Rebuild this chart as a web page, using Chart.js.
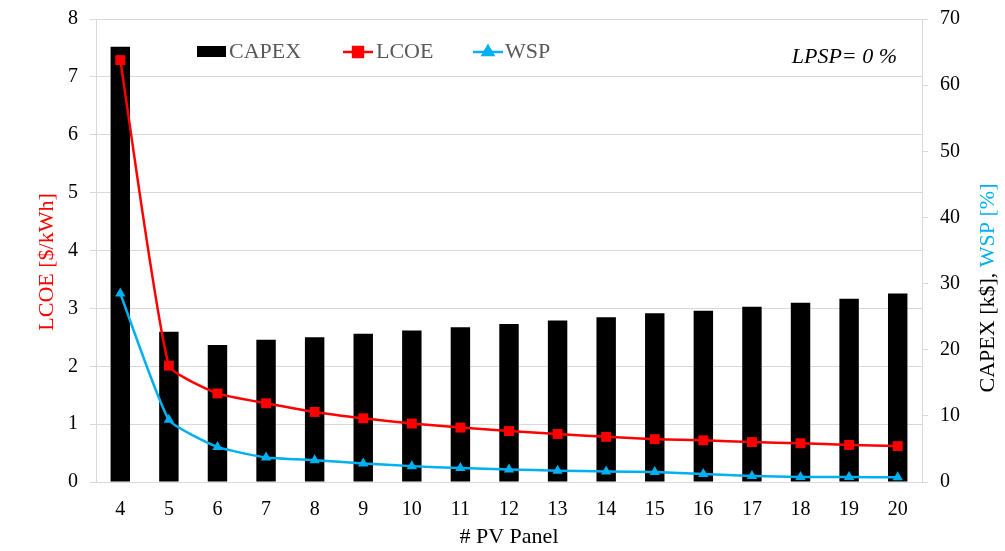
<!DOCTYPE html>
<html>
<head>
<meta charset="utf-8">
<script src="https://cdn.jsdelivr.net/npm/chart.js@4.4.1/dist/chart.umd.min.js"></script>
<style>
  html, body { margin: 0; padding: 0; background: #fff; }
  #wrap { width: 1005px; height: 551px; }
</style>
</head>
<body>
<div id="wrap"><canvas id="pvChart" width="1005" height="551"></canvas></div>
<script>
// Data
const panels = ['4', '5', '6', '7', '8', '9', '10', '11', '12', '13', '14', '15', '16', '17', '18', '19', '20'];
const capex = [65.8, 22.7, 20.7, 21.5, 21.9, 22.4, 22.9, 23.4, 23.9, 24.4, 24.9, 25.5, 25.9, 26.5, 27.1, 27.7, 28.5];
const lcoe = [7.29, 2.01, 1.53, 1.36, 1.21, 1.10, 1.01, 0.94, 0.88, 0.83, 0.78, 0.74, 0.72, 0.69, 0.67, 0.64, 0.62];
const wsp = [28.5, 9.4, 5.3, 3.7, 3.3, 2.8, 2.4, 2.1, 1.9, 1.7, 1.6, 1.5, 1.2, 0.9, 0.75, 0.75, 0.7];
const lcoeTicks = [0, 1, 2, 3, 4, 5, 6, 7, 8];
const rightTicks = [0, 10, 20, 30, 40, 50, 60, 70];

const SERIF = "'Liberation Serif', 'Times New Roman', serif";
const RED = '#ff0000';
const BLUE = '#00b0f0';
const GRID = '#d9d9d9';

// legend, axis titles and the LPSP note
const annotations = {
    id: 'annotations',
    afterDraw(chart) {
        const ctx = chart.ctx;
        const ds = chart.data.datasets;
        ctx.save();
        ctx.textBaseline = 'middle';
        ctx.font = '22px ' + SERIF;

        // legend
        const ly = 52;
        ctx.fillStyle = ds[0].backgroundColor;
        ctx.fillRect(197, 46, 29, 11);
        ctx.fillStyle = '#595959';
        ctx.textAlign = 'left';
        ctx.fillText(ds[0].label, 229, ly);

        [[ds[1], 343, 376], [ds[2], 473, 505]].forEach(([d, x0, tx]) => {
            ctx.strokeStyle = d.borderColor;
            ctx.lineWidth = d.borderWidth;
            ctx.beginPath();
            ctx.moveTo(x0, ly);
            ctx.lineTo(x0 + 30, ly);
            ctx.stroke();
            Chart.helpers.drawPoint(ctx, {
                pointStyle: d.pointStyle,
                radius: d.pointRadius,
                borderWidth: 1,
                rotation: 0
            }, x0 + 15, ly);
            ctx.fillStyle = d.borderColor;
            ctx.fill();
            ctx.fillStyle = '#595959';
            ctx.fillText(d.label, tx, ly);
        });

        // LPSP note
        ctx.fillStyle = '#000';
        ctx.textAlign = 'right';
        ctx.font = 'italic 22px ' + SERIF;
        ctx.fillText('LPSP= 0 %', 897, 57);

        // x title
        ctx.font = '22px ' + SERIF;
        ctx.textAlign = 'center';
        ctx.fillText('# PV Panel', 509, 537);

        // left title
        ctx.save();
        ctx.translate(47, 262);
        ctx.rotate(-Math.PI / 2);
        ctx.fillStyle = RED;
        ctx.fillText('LCOE [$/kWh]', 0, 0);
        ctx.restore();

        // right title, two colours
        ctx.save();
        ctx.translate(988, 288);
        ctx.rotate(-Math.PI / 2);
        const p1 = 'CAPEX [k$], ';
        const p2 = 'WSP [%]';
        const w1 = ctx.measureText(p1).width;
        const w2 = ctx.measureText(p2).width;
        const start = -(w1 + w2) / 2;
        ctx.textAlign = 'left';
        ctx.fillStyle = '#000';
        ctx.fillText(p1, start, 0);
        ctx.fillStyle = BLUE;
        ctx.fillText(p2, start + w1, 0);
        ctx.restore();

        ctx.restore();
    }
};

function fixVertical(width) {
    return function (scale) {
        scale.width = width;
        scale.paddingTop = 0;
        scale.paddingBottom = 0;
    };
}

const ctx = document.getElementById('pvChart');
new Chart(ctx, {
    data: {
        labels: panels,
        datasets: [{
            type: 'bar',
            label: 'CAPEX',
            data: capex,
            yAxisID: 'y2',
            backgroundColor: '#000000',
            borderWidth: 0,
            barPercentage: 0.4,
            categoryPercentage: 1,
            order: 2
        }, {
            type: 'line',
            label: 'LCOE',
            data: lcoe,
            yAxisID: 'y',
            borderColor: RED,
            backgroundColor: RED,
            borderWidth: 2.5,
            pointStyle: 'rect',
            pointRadius: 7,
            pointBorderWidth: 0,
            tension: 0.15,
            order: 1
        }, {
            type: 'line',
            label: 'WSP',
            data: wsp,
            yAxisID: 'y2',
            borderColor: BLUE,
            backgroundColor: BLUE,
            borderWidth: 2.5,
            pointStyle: 'triangle',
            pointRadius: 6,
            pointBorderWidth: 0,
            tension: 0.15,
            order: 0
        }]
    },
    options: {
        responsive: false,
        animation: false,
        devicePixelRatio: 1,
        layout: { padding: { top: 19, left: 0, right: 0, bottom: 0 } },
        plugins: {
            legend: { display: false },
            tooltip: { enabled: false }
        },
        scales: {
            x: {
                type: 'category',
                offset: true,
                grid: { display: false },
                border: { display: true, color: GRID, width: 1 },
                ticks: {
                    color: '#000',
                    font: { family: SERIF, size: 20 },
                    padding: 8,
                    maxRotation: 0,
                    autoSkip: false
                },
                afterFit(scale) { scale.height = 69; }
            },
            y: {
                position: 'left',
                min: 0,
                max: 8,
                afterBuildTicks(scale) { scale.ticks = lcoeTicks.map(v => ({ value: v })); },
                grid: { color: GRID, lineWidth: 1, tickLength: 6 },
                border: { display: true, color: GRID, width: 1 },
                ticks: {
                    color: '#000',
                    font: { family: SERIF, size: 20 },
                    padding: 12
                },
                afterFit: fixVertical(96)
            },
            y2: {
                position: 'right',
                min: 0,
                max: 70,
                afterBuildTicks(scale) { scale.ticks = rightTicks.map(v => ({ value: v })); },
                grid: { drawOnChartArea: false, color: GRID, tickLength: 6 },
                border: { display: true, color: GRID, width: 1 },
                ticks: {
                    color: '#000',
                    font: { family: SERIF, size: 20 },
                    padding: 12
                },
                afterFit: fixVertical(83)
            }
        }
    },
    plugins: [annotations]
});
</script>
</body>
</html>
